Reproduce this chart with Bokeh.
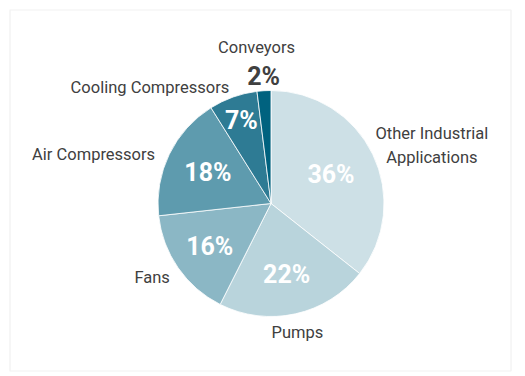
import math
from bokeh.plotting import figure
from bokeh.models import Range1d, BoxAnnotation, ColumnDataSource
from bokeh.core.properties import value
from bokeh.embed import file_html
from bokeh.resources import INLINE

# ---- data ----
categories = ["Other Industrial\nApplications", "Pumps", "Fans",
              "Air Compressors", "Cooling Compressors", "Conveyors"]
shares = [36, 22, 16, 18, 7, 2]
pct_labels = ["36%", "22%", "16%", "18%", "7%", "2%"]
colors = ["#cde0e6", "#b9d4dc", "#8bb7c5", "#5e9bae", "#2e7b94", "#00627f"]

# ---- layout / style ----
W, H = 525, 376
CX, CY, R = 270.5, H - 203, 113
FONT = "Roboto"
TXT = "#404040"

inner_frac = [0.59, 0.64, 0.66, 0.62, 0.78, None]
# (radius factor, align, baseline, x_offset, y_offset)
outer_style = [
    (1.10, "center", "middle", 49, -4),
    (1.08, "center", "top", 0, 0),
    (1.10, "right", "middle", 1, 3),
    (1.10, "right", "middle", -4, 5),
    (1.10, "right", "middle", 0, 1),
    (1.06, "center", "alphabetic", -7, -36),
]

total = float(sum(shares))
starts, ends, mids = [], [], []
cum = 0.0
for s in shares:
    a0 = math.pi / 2 - 2 * math.pi * cum / total
    cum += s
    a1 = math.pi / 2 - 2 * math.pi * cum / total
    starts.append(a0)
    ends.append(a1)
    mids.append((a0 + a1) / 2)

p = figure(width=W, height=H, x_range=Range1d(0, W), y_range=Range1d(0, H),
           x_axis_type=None, y_axis_type=None, toolbar_location=None,
           output_backend="svg", min_border=0, outline_line_color=None)
p.grid.visible = False
p.background_fill_color = "white"
p.border_fill_color = "white"

p.add_layout(BoxAnnotation(left=9.5, right=W - 14.5, bottom=H - 370.5, top=H - 9.5,
                           fill_alpha=0, line_color="#cfcfcf", line_width=1.2))

src = ColumnDataSource(dict(start=starts, end=ends, color=colors, cat=categories))
p.wedge(x=CX, y=CY, radius=R, start_angle="start", end_angle="end",
        direction="clock", fill_color="color", line_color="white",
        line_width=0.8, source=src)

# inside percentage labels
ix, iy, it = [], [], []
for f, m, t in zip(inner_frac, mids, pct_labels):
    if f is None:
        continue
    ix.append(CX + f * R * math.cos(m))
    iy.append(CY + f * R * math.sin(m))
    it.append(t)
p.text(x=ix, y=iy, text=it, text_font=value(FONT), text_font_style="bold",
       text_font_size="25px", text_color="white", text_align="center",
       text_baseline="middle")

# outside category labels
for cat, m, (k, al, bl, dx, dy) in zip(categories, mids, outer_style):
    p.text(x=[CX + k * R * math.cos(m)], y=[CY + k * R * math.sin(m)],
           text=[cat], text_font=value(FONT), text_font_size="16.5px",
           text_color=TXT, text_align=al, text_baseline=bl,
           x_offset=dx, y_offset=dy, text_line_height=1.25)

# small slice value outside
k = outer_style[-1][0]
p.text(x=[CX + k * R * math.cos(mids[-1])], y=[CY + k * R * math.sin(mids[-1])],
       text=[pct_labels[-1]], text_font=value(FONT), text_font_style="bold",
       text_font_size="25px", text_color=TXT, text_align="center",
       text_baseline="alphabetic", y_offset=-7)

open("out.html", "w").write(file_html(p, INLINE))
